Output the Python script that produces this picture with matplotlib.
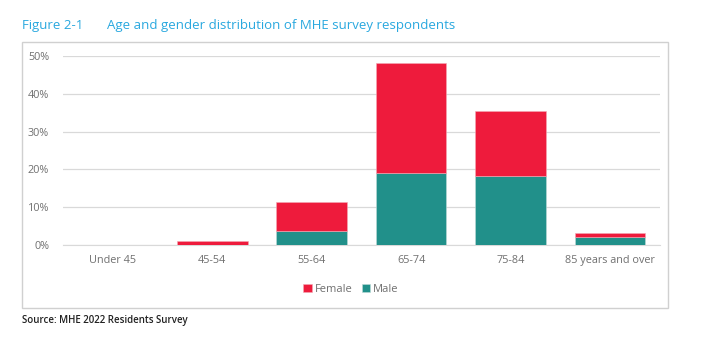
import matplotlib.pyplot as plt
from matplotlib.patches import Rectangle
from matplotlib.ticker import PercentFormatter

plt.rcParams['font.family'] = ['Open Sans', 'DejaVu Sans']

# data (share of respondents)
ages = ["Under 45", "45-54", "55-64", "65-74", "75-84", "85 years and over"]
male = [0.0, 0.0, 0.037, 0.190, 0.183, 0.020]
female = [0.0, 0.010, 0.078, 0.291, 0.171, 0.013]
yticks = [0, 0.1, 0.2, 0.3, 0.4, 0.5]

RED = "#EE1B3C"
TEAL = "#21908A"
GREY = "#707070"

fig = plt.figure(figsize=(7.02, 3.42), dpi=100)
ax = fig.add_axes([0.0897, 0.2836, 0.8503, 0.5527])

x = range(len(ages))
ax.bar(x, male, width=0.71, color=TEAL, label="Male", edgecolor="#BFD9D7", linewidth=0.4, zorder=3)
ax.bar(x, female, width=0.71, bottom=male, color=RED, label="Female", edgecolor="#F4A9B5", linewidth=0.4, zorder=3)

ax.set_xlim(-0.5, len(ages) - 0.5)
ax.set_ylim(0, 0.5)
ax.set_yticks(yticks)
ax.yaxis.set_major_formatter(PercentFormatter(1.0, decimals=0))
ax.set_xticks(list(x))
ax.set_xticklabels(ages)
ax.tick_params(length=0, labelsize=7.8, colors=GREY, pad=7)
ax.tick_params(axis="y", pad=10)
ax.grid(axis="y", color="#D9D9D9", linewidth=0.9, zorder=0)
for s in ["top", "right", "left"]:
    ax.spines[s].set_visible(False)
ax.spines["bottom"].set_color("#D9D9D9")

h, l = ax.get_legend_handles_labels()
ax.legend(h[::-1], l[::-1], loc="center", bbox_to_anchor=(0.5, 0.153), bbox_transform=fig.transFigure,
          ncol=2, frameon=False, fontsize=8, handlelength=0.75, handleheight=0.75,
          handletextpad=0.3, columnspacing=0.8, labelcolor=GREY)

# chart frame
fig.patches.append(Rectangle((22 / 702, 1 - 308 / 342), 646 / 702, 266 / 342,
                             transform=fig.transFigure, fill=False, edgecolor="#D0D0D0", linewidth=1))

fig.text(22 / 702, 1 - 25 / 342, "Figure 2-1", color="#29A8DF", fontsize=9.5, va="center")
fig.text(107 / 702, 1 - 25 / 342, "Age and gender distribution of MHE survey respondents",
         color="#29A8DF", fontsize=9.5, va="center")
fig.text(22 / 702, 1 - 320 / 342, "Source: MHE 2022 Residents Survey", color="#222222",
         fontsize=7, va="center", weight="semibold")

fig.savefig("out.png", dpi=100, facecolor="white")
